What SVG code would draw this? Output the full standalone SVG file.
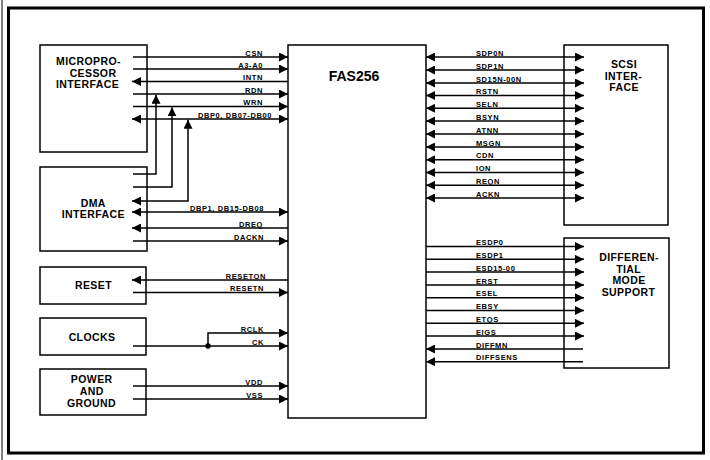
<svg xmlns="http://www.w3.org/2000/svg" width="710" height="460" viewBox="0 0 710 460">
<defs>
<marker id="ah" viewBox="0 0 9 9" refX="9" refY="4.5" markerWidth="9" markerHeight="9" markerUnits="userSpaceOnUse" orient="auto-start-reverse"><path d="M0,0 L9,4.5 L0,9 z" fill="#000"/></marker>
</defs>
<style>
.box{fill:#fff;stroke:#000;stroke-width:1.5}
.t{font-family:"Liberation Sans",Arial,sans-serif;font-weight:bold;font-size:10.5px;letter-spacing:0.4px;text-anchor:middle;fill:#000}
.big{font-size:14px;letter-spacing:0}
.lbl{font-family:"Liberation Sans",Arial,sans-serif;font-weight:bold;font-size:7.5px;letter-spacing:0.6px;fill:#000}
.r{text-anchor:end}
.w{fill:none;stroke:#000;stroke-width:1.5}
.a{marker-end:url(#ah)}
.b{marker-start:url(#ah);marker-end:url(#ah)}
</style>
<rect width="710" height="460" fill="#fff"/>
<g id="frame">
<line x1="2" y1="0" x2="2" y2="460" stroke="#000" stroke-width="1"/>
<rect x="8.5" y="8" width="695" height="445" fill="none" stroke="#000" stroke-width="3"/>
</g>
<g id="micro">
<rect class="box" x="40" y="45" width="107" height="107"/>
<text class="t" x="88.5" y="65">MICROPRO-</text>
<text class="t" x="93" y="76.7">CESSOR</text>
<text class="t" x="87.5" y="88.3">INTERFACE</text>
</g>
<g id="dma">
<rect class="box" x="40" y="167" width="107" height="84"/>
<text class="t" x="93.3" y="207">DMA</text>
<text class="t" x="93.3" y="218">INTERFACE</text>
</g>
<g id="reset">
<rect class="box" x="40" y="267" width="106" height="37"/>
<text class="t" x="93.5" y="288.5">RESET</text>
</g>
<g id="clocks">
<rect class="box" x="40" y="318" width="106" height="37"/>
<text class="t" x="92" y="340.5">CLOCKS</text>
</g>
<g id="power">
<rect class="box" x="40" y="369" width="106" height="46"/>
<text class="t" x="91.7" y="383">POWER</text>
<text class="t" x="91.7" y="395">AND</text>
<text class="t" x="91.5" y="407">GROUND</text>
</g>
<g id="fas256">
<rect class="box" x="288" y="45" width="138" height="373"/>
<text class="t big" x="354" y="81">FAS256</text>
</g>
<g id="scsi">
<rect class="box" x="564" y="45" width="104" height="180"/>
<text class="t" x="624" y="67.5">SCSI</text>
<text class="t" x="623.5" y="79.5">INTER-</text>
<text class="t" x="624" y="91">FACE</text>
</g>
<g id="diff">
<rect class="box" x="564" y="238" width="105" height="130"/>
<text class="t" x="629" y="261">DIFFEREN-</text>
<text class="t" x="628.7" y="272.5">TIAL</text>
<text class="t" x="629" y="284">MODE</text>
<text class="t" x="628.5" y="295.5">SUPPORT</text>
</g>
<g id="connectors">
<path class="w a" d="M133,57 H288"/>
<path class="w a" d="M133,69 H288"/>
<path class="w a" d="M288,81.5 H132"/>
<path class="w a" d="M133,94 H288"/>
<path class="w a" d="M133,106.5 H288"/>
<path class="w b" d="M132,119 H288"/>
<path class="w a" d="M133,174 H156 V94.7"/>
<path class="w a" d="M133,187 H172 V107.2"/>
<path class="w b" d="M188,119.7 V201 H132"/>
<path class="w b" d="M132,212 H288"/>
<path class="w a" d="M288,228 H132"/>
<path class="w a" d="M133,241 H288"/>
<path class="w a" d="M288,280 H132"/>
<path class="w a" d="M133,292.5 H288"/>
<path class="w a" d="M133,346 H288"/>
<path class="w a" d="M208,346 V333 H288"/>
<circle cx="208" cy="346" r="2.7" fill="#000"/>
<path class="w a" d="M133,386 H288"/>
<path class="w a" d="M133,399 H288"/>
<text class="lbl r" x="263" y="55.5">CSN</text>
<text class="lbl r" x="263" y="67.5">A3-A0</text>
<text class="lbl r" x="263" y="80">INTN</text>
<text class="lbl r" x="263" y="92.5">RDN</text>
<text class="lbl r" x="263" y="105">WRN</text>
<text class="lbl r" x="272" y="117.5">DBP0, DB07-DB00</text>
<text class="lbl r" x="264" y="210.5">DBP1, DB15-DB08</text>
<text class="lbl r" x="263" y="226.5">DREQ</text>
<text class="lbl r" x="264" y="239.5">DACKN</text>
<text class="lbl r" x="266" y="278.5">RESETON</text>
<text class="lbl r" x="264" y="291">RESETN</text>
<text class="lbl r" x="264" y="331.5">RCLK</text>
<text class="lbl r" x="264" y="344.5">CK</text>
<text class="lbl r" x="263" y="384.5">VDD</text>
<text class="lbl r" x="263" y="397.5">VSS</text>
<path class="w b" d="M426,57 H584"/>
<path class="w b" d="M426,70 H584"/>
<path class="w b" d="M426,83 H584"/>
<path class="w b" d="M426,95.5 H584"/>
<path class="w b" d="M426,108.3 H584"/>
<path class="w b" d="M426,121 H584"/>
<path class="w b" d="M426,134 H584"/>
<path class="w b" d="M426,147 H584"/>
<path class="w b" d="M426,159.7 H584"/>
<path class="w b" d="M426,172.5 H584"/>
<path class="w b" d="M426,185.3 H584"/>
<path class="w b" d="M426,198 H584"/>
<text class="lbl" x="476" y="55.5">SDP0N</text>
<text class="lbl" x="476" y="68.5">SDP1N</text>
<text class="lbl" x="476" y="81.5">SD15N-00N</text>
<text class="lbl" x="476" y="94">RSTN</text>
<text class="lbl" x="476" y="106.8">SELN</text>
<text class="lbl" x="476" y="119.5">BSYN</text>
<text class="lbl" x="476" y="132.5">ATNN</text>
<text class="lbl" x="476" y="145.5">MSGN</text>
<text class="lbl" x="476" y="158.2">CDN</text>
<text class="lbl" x="476" y="171">ION</text>
<text class="lbl" x="476" y="183.8">REQN</text>
<text class="lbl" x="476" y="196.5">ACKN</text>
<path class="w a" d="M426,246.5 H584"/>
<path class="w a" d="M426,259.3 H584"/>
<path class="w a" d="M426,272 H584"/>
<path class="w a" d="M426,285 H584"/>
<path class="w a" d="M426,297.7 H584"/>
<path class="w a" d="M426,310.5 H584"/>
<path class="w a" d="M426,323.3 H584"/>
<path class="w a" d="M426,336 H584"/>
<path class="w a" d="M583,349 H426"/>
<path class="w a" d="M583,361.7 H426"/>
<text class="lbl" x="476" y="245">ESDP0</text>
<text class="lbl" x="476" y="257.8">ESDP1</text>
<text class="lbl" x="476" y="270.5">ESD15-00</text>
<text class="lbl" x="476" y="283.5">ERST</text>
<text class="lbl" x="476" y="296.2">ESEL</text>
<text class="lbl" x="476" y="309">EBSY</text>
<text class="lbl" x="476" y="321.8">ETQS</text>
<text class="lbl" x="476" y="334.5">EIGS</text>
<text class="lbl" x="476" y="347.5">DIFFMN</text>
<text class="lbl" x="476" y="360.2">DIFFSENS</text>
</g>
</svg>
